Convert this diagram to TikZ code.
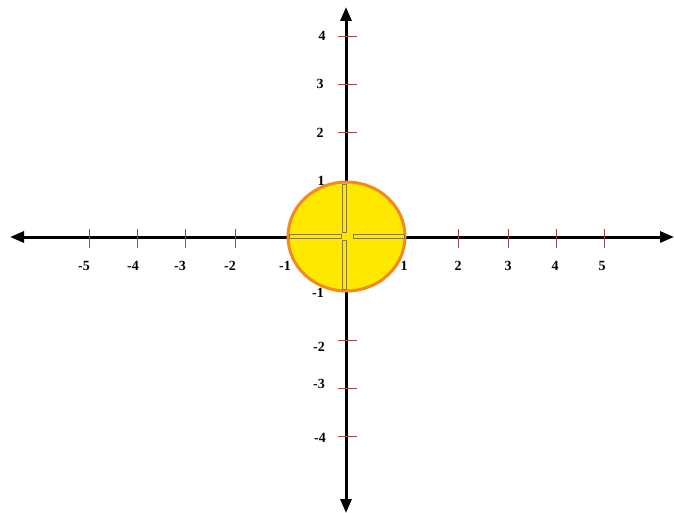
\documentclass[tikz,border=0pt]{standalone}
\usepackage{fontspec}
\setmainfont{Liberation Serif}
\usetikzlibrary{arrows.meta,shapes.geometric}
\definecolor{tickred}{HTML}{9B4A4A}
\definecolor{circfill}{HTML}{FFE800}
\definecolor{circline}{HTML}{F28A1E}
\definecolor{barline}{HTML}{8A7A40}
\begin{document}
\begin{tikzpicture}[x=1pt,y=-1pt,
  axis/.style={line width=3pt,-{Triangle[length=14pt,width=11pt]}},
  tickmark/.style={draw=tickred,line width=0.9pt},
  lab/.style={font=\fontsize{14}{14}\selectfont\bfseries,inner sep=0pt},
  bar/.style={draw=barline,line width=0.7pt,fill=circfill}]
\useasboundingbox (0,0) rectangle (674,513);
% axes
\coordinate (o) at (346,237);
\coordinate (xl) at (10,237);
\coordinate (xr) at (674,237);
\coordinate (yt) at (346,7);
\coordinate (yb) at (346,513);
\draw[axis] (o) -- (xl);
\draw[axis] (o) -- (xr);
\draw[axis] (o) -- (yt);
\draw[axis] (o) -- (yb);
% x ticks
\foreach \x in {89,137,185,235,458,508,556,604}
  \draw[tickmark] (\x,229) -- (\x,248);
% y ticks
\foreach \y in {36,84,132,340,388,436}
  \draw[tickmark] (338,\y) -- (357,\y);
% circle
\node (c) [draw=circline,line width=3pt,fill=circfill,ellipse,minimum width=117pt,minimum height=109pt,inner sep=0pt] at (346.5,236.5) {};
\path[bar] (289,234.5) rectangle (341,238.5);
\path[bar] (353,234.5) rectangle (404,238.5);
\path[bar] (342.5,184) rectangle (346.5,232);
\path[bar] (342.5,240) rectangle (346.5,289);
% x labels
\node[lab] (lm5) at (84,266) {-5};
\node[lab] (lm4) at (133,266) {-4};
\node[lab] (lm3) at (180,266) {-3};
\node[lab] (lm2) at (230,266) {-2};
\node[lab] (lm1) at (285,266) {-1};
\node[lab] (lp1) at (404,266) {1};
\node[lab] (lp2) at (458,266) {2};
\node[lab] (lp3) at (508,266) {3};
\node[lab] (lp4) at (555,266) {4};
\node[lab] (lp5) at (602,266) {5};
% y labels
\node[lab] (y4) at (322,36) {4};
\node[lab] (y3) at (320,84) {3};
\node[lab] (y2) at (320,133) {2};
\node[lab] (y1) at (321,181) {1};
\node[lab] (ym1) at (318,293) {-1};
\node[lab] (ym2) at (319,347) {-2};
\node[lab] (ym3) at (319,384) {-3};
\node[lab] (ym4) at (320,438) {-4};
\end{tikzpicture}
\end{document}
